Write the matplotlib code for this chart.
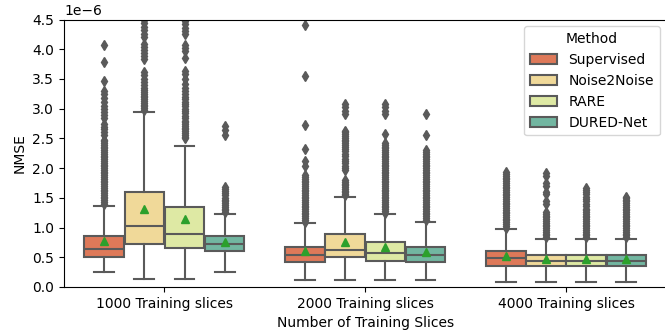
import matplotlib
matplotlib.use("Agg")
import matplotlib.pyplot as plt
import matplotlib.patches as mpatches
import seaborn as sns
import numpy as np

# Categories and methods
groups = ["1000 Training slices", "2000 Training slices", "4000 Training slices"]
methods = ["Supervised", "Noise2Noise", "RARE", "DURED-Net"]

# Box statistics (units of 1e-6), rows = groups, cols = methods
q1 = [[0.50, 0.72, 0.65, 0.61],
      [0.42, 0.50, 0.44, 0.42],
      [0.35, 0.35, 0.35, 0.35]]
q3 = [[0.85, 1.60, 1.35, 0.85],
      [0.68, 0.90, 0.75, 0.68],
      [0.61, 0.53, 0.53, 0.53]]
med = [[0.64, 1.03, 0.90, 0.72],
       [0.53, 0.63, 0.57, 0.54],
       [0.48, 0.43, 0.43, 0.43]]
means = [[0.77, 1.31, 1.14, 0.75],
         [0.61, 0.75, 0.67, 0.59],
         [0.52, 0.47, 0.47, 0.47]]
whislo = [[0.25, 0.13, 0.13, 0.25],
          [0.11, 0.11, 0.11, 0.11],
          [0.09, 0.09, 0.09, 0.09]]
whishi = [[1.37, 2.94, 2.38, 1.23],
          [1.08, 1.52, 1.22, 1.10],
          [0.97, 0.81, 0.81, 0.81]]

# Outliers (units of 1e-6)
fliers = [
    [
        [1.40, 1.43, 1.46, 1.49, 1.52, 1.55, 1.58, 1.61, 1.64, 1.67, 1.70, 1.73, 1.76, 1.79,
         1.82, 1.85, 1.88, 1.91, 1.94, 1.97, 2.00, 2.03, 2.06, 2.09, 2.12, 2.15, 2.18, 2.21,
         2.24, 2.27, 2.30, 2.33, 2.36, 2.39, 2.42, 2.45, 2.48, 2.55, 2.60, 2.65, 2.70, 2.74,
         2.85, 2.90, 2.95, 3.00, 3.05, 3.12, 3.18, 3.24, 3.29, 3.46, 3.78, 4.07],
        [2.98, 3.01, 3.04, 3.07, 3.10, 3.13, 3.16, 3.19, 3.22, 3.25, 3.28, 3.31, 3.35, 3.40,
         3.45, 3.50, 3.56, 3.62, 3.83, 3.88, 3.93, 3.98, 4.04, 4.08, 4.20, 4.25, 4.32, 4.38,
         4.44, 4.49, 4.6, 4.8, 5.2],
        [2.50, 2.53, 2.56, 2.59, 2.62, 2.65, 2.68, 2.71, 2.74, 2.77, 2.80, 2.84, 2.88, 2.92,
         2.96, 3.00, 3.04, 3.08, 3.12, 3.16, 3.20, 3.25, 3.30, 3.35, 3.42, 3.50, 3.58, 3.64,
         3.86, 3.97, 4.02, 4.07, 4.25, 4.30, 4.36, 4.42, 4.48, 4.7, 5.0],
        [1.26, 1.29, 1.32, 1.35, 1.38, 1.41, 1.44, 1.47, 1.50, 1.54, 1.58, 1.62, 1.65, 1.69,
         2.56, 2.64, 2.71],
    ],
    [
        [4.40, 3.55, 2.73, 2.32, 2.12, 2.04, 1.88, 1.85, 1.82, 1.79, 1.76, 1.73, 1.70, 1.67,
         1.64, 1.61, 1.58, 1.55, 1.52, 1.49, 1.46, 1.43, 1.40, 1.37, 1.34, 1.31, 1.28, 1.25,
         1.22, 1.19, 1.16, 1.13, 1.10],
        [3.08, 3.02, 2.96, 2.91, 2.63, 2.60, 2.57, 2.54, 2.51, 2.48, 2.45, 2.42, 2.39, 2.36,
         2.32, 2.28, 2.24, 2.20, 2.16, 2.12, 2.08, 2.04, 2.00, 1.97, 1.80, 1.77, 1.74, 1.71,
         1.68, 1.65, 1.62, 1.59, 1.56, 1.54],
        [3.08, 3.02, 2.96, 2.91, 2.58, 2.42, 2.39, 2.36, 2.33, 2.30, 2.27, 2.24, 2.21, 2.18,
         2.15, 2.12, 2.09, 2.06, 2.03, 2.00, 1.97, 1.94, 1.91, 1.88, 1.85, 1.82, 1.79, 1.76,
         1.73, 1.70, 1.67, 1.64, 1.61, 1.58, 1.55, 1.52, 1.49, 1.46, 1.43, 1.40, 1.37, 1.34,
         1.31, 1.28, 1.25],
        [2.91, 2.55, 2.30, 2.27, 2.24, 2.21, 2.18, 2.15, 2.12, 2.09, 2.06, 2.03, 2.00, 1.97,
         1.94, 1.91, 1.88, 1.85, 1.82, 1.79, 1.76, 1.73, 1.70, 1.67, 1.64, 1.61, 1.58, 1.55,
         1.52, 1.49, 1.46, 1.43, 1.40, 1.37, 1.34, 1.31, 1.28, 1.25, 1.22, 1.19, 1.16, 1.13],
    ],
    [
        [1.00, 1.03, 1.06, 1.09, 1.12, 1.15, 1.18, 1.21, 1.24, 1.27, 1.30, 1.33, 1.36, 1.39,
         1.42, 1.45, 1.48, 1.51, 1.54, 1.57, 1.60, 1.63, 1.66, 1.69, 1.72, 1.75, 1.78, 1.81,
         1.84, 1.87, 1.90, 1.93],
        [0.84, 0.87, 0.90, 0.93, 0.96, 0.99, 1.02, 1.05, 1.08, 1.11, 1.14, 1.17, 1.20, 1.23,
         1.26, 1.40, 1.44, 1.56, 1.60, 1.70, 1.75, 1.86, 1.92],
        [0.84, 0.87, 0.90, 0.93, 0.96, 0.99, 1.02, 1.05, 1.08, 1.11, 1.14, 1.17, 1.20, 1.23,
         1.26, 1.29, 1.32, 1.36, 1.40, 1.44, 1.48, 1.52, 1.56, 1.60, 1.63, 1.66],
        [0.84, 0.87, 0.90, 0.93, 0.96, 0.99, 1.02, 1.05, 1.08, 1.11, 1.14, 1.17, 1.20, 1.23,
         1.26, 1.29, 1.32, 1.35, 1.38, 1.41, 1.44, 1.47, 1.50, 1.52],
    ],
]

scale = 1e-6
colors = sns.color_palette("Spectral", 4, desat=0.75)
gray = "#5a5a5a"
box_w = 0.8 / len(methods) * 0.98
offsets = [-0.3, -0.1, 0.1, 0.3]

fig = plt.figure(figsize=(6.65, 3.32), dpi=100)
ax = fig.add_axes([64 / 665, 1 - 287 / 332, 602.5 / 665, 267.5 / 332])

for gi in range(len(groups)):
    for mi in range(len(methods)):
        st = {
            "med": med[gi][mi] * scale,
            "q1": q1[gi][mi] * scale,
            "q3": q3[gi][mi] * scale,
            "whislo": whislo[gi][mi] * scale,
            "whishi": whishi[gi][mi] * scale,
            "mean": means[gi][mi] * scale,
            "fliers": np.array(fliers[gi][mi]) * scale,
        }
        ax.bxp([st], positions=[gi + offsets[mi]], widths=box_w,
               showmeans=True, patch_artist=True,
               boxprops=dict(facecolor=colors[mi], edgecolor=gray, linewidth=1.5),
               medianprops=dict(color=gray, linewidth=1.5),
               whiskerprops=dict(color=gray, linewidth=1.5),
               capprops=dict(color=gray, linewidth=1.5),
               flierprops=dict(marker="d", markersize=5, markerfacecolor=gray,
                               markeredgecolor=gray),
               meanprops=dict(marker="^", markerfacecolor="C2", markeredgecolor="C2",
                              markersize=6),
               manage_ticks=False)

ax.set_xlim(-0.5, len(groups) - 0.5)
ax.set_ylim(0, 4.5e-6)
ax.set_xticks(range(len(groups)))
ax.set_xticklabels(groups)
ax.set_xlabel("Number of Training Slices")
ax.set_ylabel("NMSE")

handles = [mpatches.Patch(facecolor=colors[i], edgecolor=gray, linewidth=1.5, label=m)
           for i, m in enumerate(methods)]
ax.legend(handles=handles, title="Method", loc="upper right")

fig.savefig("out.png", dpi=100)
